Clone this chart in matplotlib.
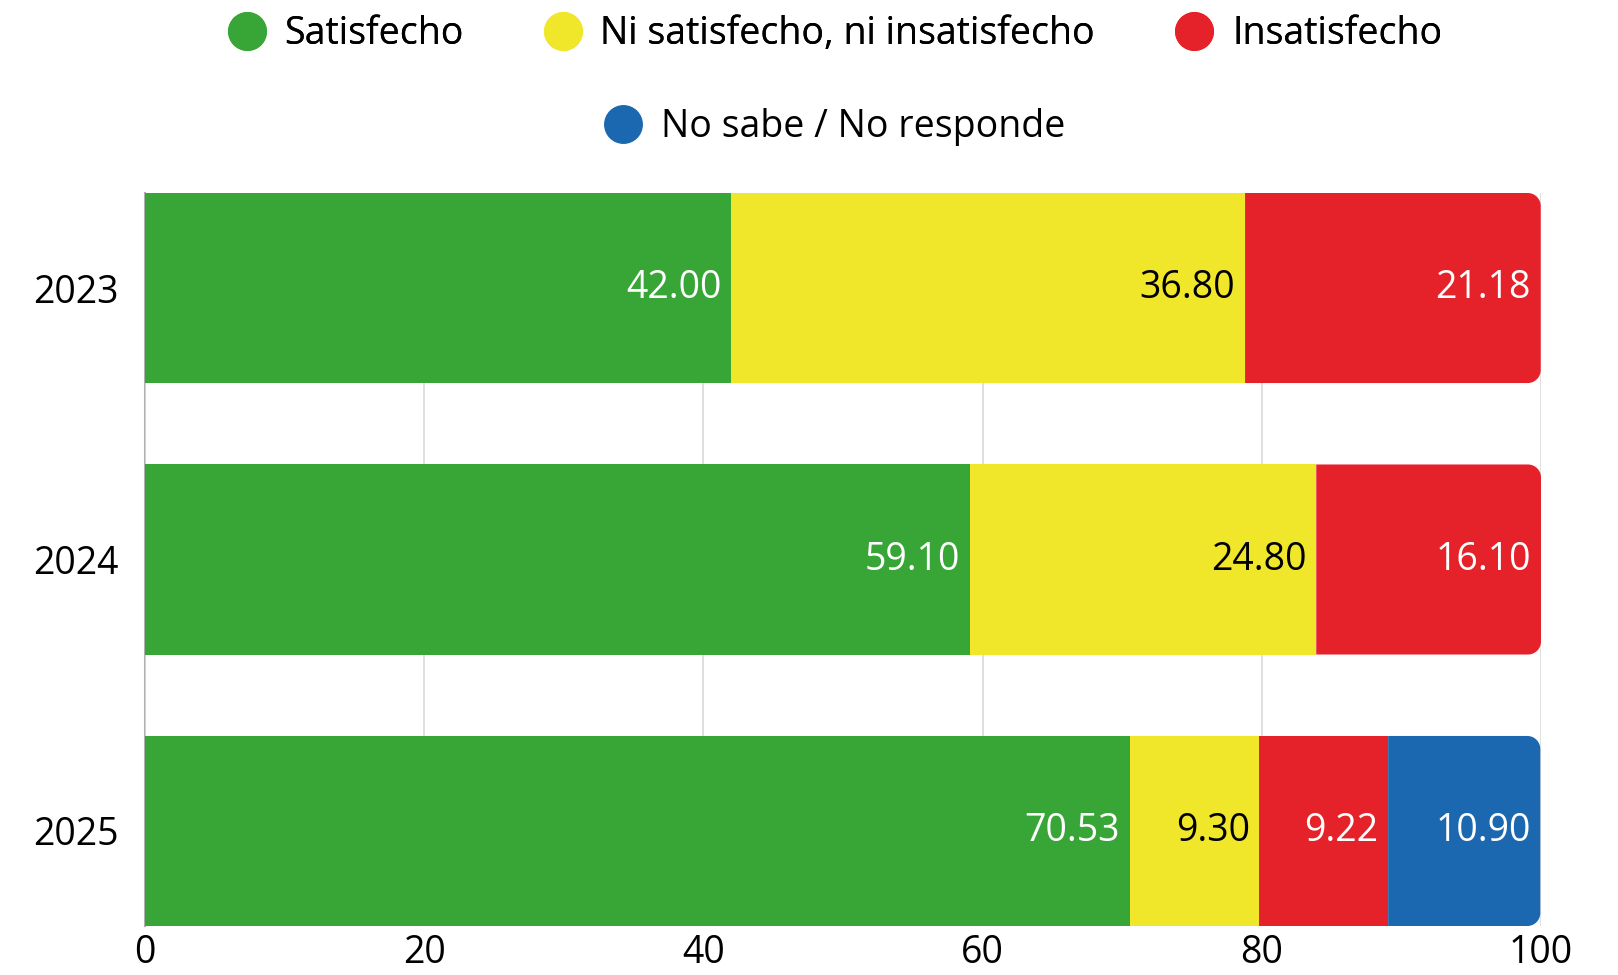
import matplotlib
matplotlib.use("Agg")
import matplotlib.pyplot as plt
from matplotlib.path import Path
from matplotlib.patches import PathPatch
from matplotlib.lines import Line2D

plt.rcParams['font.family'] = ['Open Sans', 'DejaVu Sans']

years = ["2023", "2024", "2025"]
categories = ["Satisfecho", "Ni satisfecho, ni insatisfecho", "Insatisfecho", "No sabe / No responde"]
colors = ["#38A637", "#F0E62A", "#E5222A", "#1B67B0"]
label_colors = ["white", "black", "white", "white"]
satisfecho = [42.00, 59.10, 70.53]
neutral = [36.80, 24.80, 9.30]
insatisfecho = [21.18, 16.10, 9.22]
no_sabe = [0.0, 0.0, 10.90]
series = [satisfecho, neutral, insatisfecho, no_sabe]
xticks = [0, 20, 40, 60, 80, 100]

FS = 27
W, H = 1618, 975
fig = plt.figure(figsize=(W / 100, H / 100), dpi=100)
ax = fig.add_axes([145 / W, 1 - 926 / H, (1541 - 145) / W, (926 - 193) / H])

ypos = list(range(len(years)))
left = [0.0] * len(years)
bars_all = []
for si, vals in enumerate(series):
    bars = ax.barh(ypos, vals, left=left, height=0.7, color=colors[si], zorder=3,
                   linewidth=0)
    bars_all.append(bars)
    for i, v in enumerate(vals):
        if v > 0:
            ax.annotate(f"{v:.2f}", xy=(left[i] + v, ypos[i]), xytext=(-7, 0),
                        textcoords="offset points", ha="right", va="center",
                        color=label_colors[si], fontsize=FS, zorder=5)
    left = [l + v for l, v in zip(left, vals)]

ax.set_xlim(0, 100)
ax.set_ylim(2.35, -0.35)

# round right corners of the last segment of each bar
fig.canvas.draw()
inv = ax.transData.inverted()
r_px = 13
p0 = inv.transform((0, 0))
p1 = inv.transform((r_px, r_px))
rx = abs(p1[0] - p0[0])
ry = abs(p1[1] - p0[1])
for i in range(len(years)):
    last = None
    for si in range(len(series)):
        if series[si][i] > 0:
            last = bars_all[si][i]
    x0, y0 = last.get_x(), last.get_y()
    w, h = last.get_width(), last.get_height()
    x1, y1 = x0 + w, y0 + h
    k = 0.5523
    verts = [(x0, y0), (x1 - rx, y0),
             (x1 - rx + k * rx, y0), (x1, y0 + ry - k * ry), (x1, y0 + ry),
             (x1, y1 - ry),
             (x1, y1 - ry + k * ry), (x1 - rx + k * rx, y1), (x1 - rx, y1),
             (x0, y1), (x0, y0)]
    codes = [Path.MOVETO, Path.LINETO,
             Path.CURVE4, Path.CURVE4, Path.CURVE4,
             Path.LINETO,
             Path.CURVE4, Path.CURVE4, Path.CURVE4,
             Path.LINETO, Path.CLOSEPOLY]
    patch = PathPatch(Path(verts, codes), facecolor=last.get_facecolor(),
                      edgecolor="none", zorder=3)
    last.set_visible(False)
    ax.add_patch(patch)

ax.set_xticks(xticks)
ax.set_xticklabels([str(t) for t in xticks])
ax.set_yticks(ypos)
ax.set_yticklabels(years)
ax.tick_params(axis="x", length=0, pad=6, labelsize=FS)
ax.tick_params(axis="y", length=0, pad=19, labelsize=FS)
ax.grid(axis="x", color="#d9d9d9", linewidth=1.2, zorder=0)
for s in ["top", "right", "bottom"]:
    ax.spines[s].set_visible(False)
ax.spines["left"].set_color("#b0b0b0")
ax.spines["left"].set_linewidth(1.5)
ax.spines["left"].set_zorder(1)

def handle(c):
    return Line2D([], [], marker="o", linestyle="none", markersize=27,
                  markerfacecolor=c, markeredgecolor=c)

xc = ((145 + 1541) / 2 - 8) / W
leg1 = fig.legend([handle(c) for c in colors[:3]], categories[:3], ncol=3,
                  loc="center", bbox_to_anchor=(xc, 1 - 34 / H), frameon=False,
                  fontsize=FS, handletextpad=0.5, columnspacing=2.15,
                  handlelength=1.0)
leg2 = fig.legend([handle(colors[3])], categories[3:], ncol=1,
                  loc="center", bbox_to_anchor=(xc, 1 - 127 / H), frameon=False,
                  fontsize=FS, handletextpad=0.5, handlelength=1.0)
fig.add_artist(leg1)

fig.savefig("out.png", dpi=100, facecolor="white")
